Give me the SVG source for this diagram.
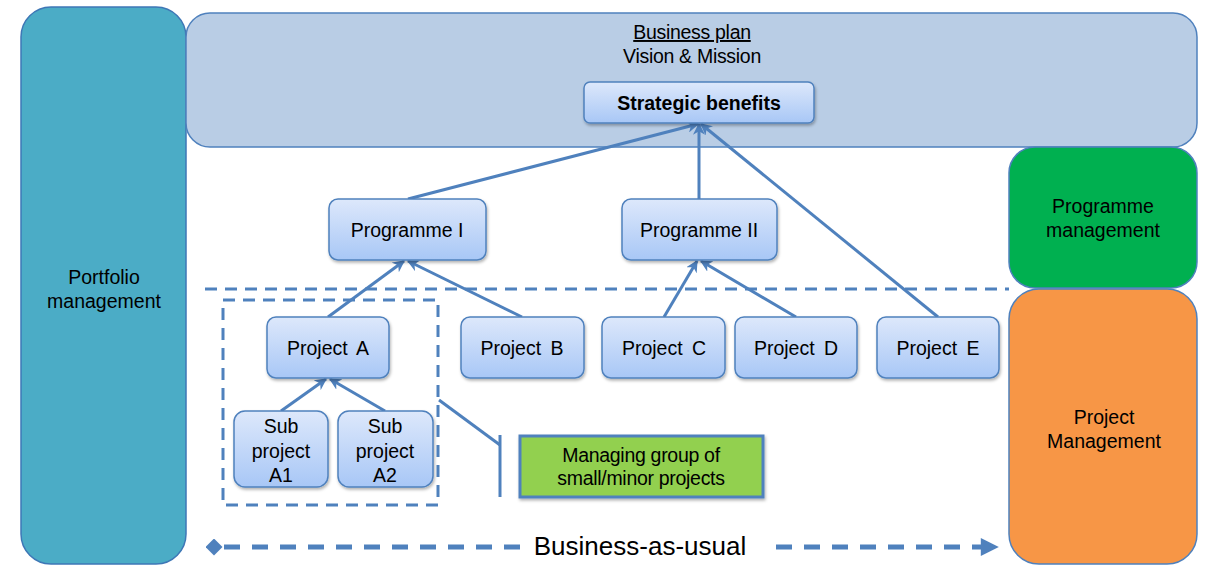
<svg xmlns="http://www.w3.org/2000/svg" width="1206" height="567" viewBox="0 0 1206 567">
<defs>
<linearGradient id="nodeGrad" x1="0" y1="0" x2="0" y2="1">
<stop offset="0" stop-color="#DDE8FB"/>
<stop offset="1" stop-color="#A8C7F6"/>
</linearGradient>
<filter id="sh" x="-10%" y="-10%" width="130%" height="140%">
<feDropShadow dx="1" dy="2" stdDeviation="1.5" flood-color="#000" flood-opacity="0.3"/>
</filter>
<marker id="arr" viewBox="0 0 10 10" refX="9" refY="5" markerWidth="4" markerHeight="4" orient="auto-start-reverse" markerUnits="strokeWidth">
<path d="M0,0 L10,5 L0,10 L3,5 z" fill="#4F81BD"/>
</marker>
<marker id="tri" viewBox="0 0 10 10" refX="9" refY="5" markerWidth="3.8" markerHeight="3.6" orient="auto" markerUnits="strokeWidth">
<path d="M0,0 L10,5 L0,10 z" fill="#4F81BD"/>
</marker>
<marker id="dia" viewBox="0 0 10 10" refX="5" refY="5" markerWidth="3.4" markerHeight="3.4" orient="auto" markerUnits="strokeWidth">
<path d="M0,5 L5,0 L10,5 L5,10 z" fill="#4F81BD"/>
</marker>
</defs>
<style>
text { font-family: "Liberation Sans", Arial, sans-serif; font-size: 19.5px; fill: #000; text-anchor: middle; }
.big { font-size: 26px; }
.tight { letter-spacing: -0.3px; }
.node { fill: url(#nodeGrad); stroke: #4F81BD; stroke-width: 1.5; filter: url(#sh); }
.conn { stroke: #4F81BD; stroke-width: 3; fill: none; }
.dash { stroke: #4F81BD; stroke-width: 3; fill: none; stroke-dasharray: 12 8; }
.bau { stroke: #4F81BD; stroke-width: 5; fill: none; stroke-dasharray: 16 12; }
</style>

<g id="portfolio">
<rect x="21" y="7" width="165" height="557" rx="30" fill="#4BACC6" stroke="#3E77B6" stroke-width="1.5"/>
<text x="104" y="284">Portfolio</text>
<text x="104" y="308">management</text>
</g>

<g id="business-plan">
<rect x="186" y="13" width="1011" height="134" rx="24" fill="#B9CDE5" stroke="#4F81BD" stroke-width="1.5"/>
<text x="692" y="39" class="tight" text-decoration="underline">Business plan</text>
<text x="692" y="63" class="tight">Vision &amp; Mission</text>
</g>

<g id="programme-management">
<rect x="1009" y="147" width="188" height="141" rx="26" fill="#00B050" stroke="#4F81BD" stroke-width="1.5"/>
<text x="1103" y="213">Programme</text>
<text x="1103" y="237">management</text>
</g>

<g id="project-management">
<rect x="1009" y="289" width="188" height="275" rx="30" fill="#F79646" stroke="#4F81BD" stroke-width="1.5"/>
<text x="1104" y="424">Project</text>
<text x="1104" y="448">Management</text>
</g>

<g id="connectors">
<line class="dash" x1="205" y1="289" x2="1009" y2="289"/>
<rect class="dash" x="223" y="300" width="215" height="205"/>
<line class="conn" x1="408" y1="199" x2="698" y2="124" marker-end="url(#arr)"/>
<line class="conn" x1="699" y1="199" x2="699" y2="124" marker-end="url(#arr)"/>
<line class="conn" x1="938" y1="317" x2="701" y2="124" marker-end="url(#arr)"/>
<line class="conn" x1="328" y1="317" x2="404" y2="261" marker-end="url(#arr)"/>
<line class="conn" x1="522" y1="317" x2="408" y2="261" marker-end="url(#arr)"/>
<line class="conn" x1="664" y1="317" x2="697" y2="261" marker-end="url(#arr)"/>
<line class="conn" x1="796" y1="317" x2="701" y2="261" marker-end="url(#arr)"/>
<line class="conn" x1="281" y1="411" x2="326" y2="379" marker-end="url(#arr)"/>
<line class="conn" x1="385" y1="411" x2="330" y2="379" marker-end="url(#arr)"/>
<polyline class="conn" points="439,400 500,445"/>
<line class="conn" x1="500" y1="435" x2="500" y2="497"/>
<line class="bau" x1="520" y1="547" x2="214" y2="547" marker-end="url(#dia)"/>
<line class="bau" x1="776" y1="547" x2="997" y2="547" marker-end="url(#tri)"/>
</g>

<g id="strategic-benefits">
<rect class="node" x="584" y="82" width="230" height="41" rx="6"/>
<text x="699" y="110" font-weight="bold">Strategic benefits</text>
</g>

<g id="programme-1">
<rect class="node" x="329" y="199" width="157" height="61" rx="9"/>
<text x="407" y="237">Programme I</text>
</g>

<g id="programme-2">
<rect class="node" x="622" y="199" width="155" height="61" rx="9"/>
<text x="699" y="237">Programme II</text>
</g>

<g id="project-a">
<rect class="node" x="267" y="317" width="122" height="61" rx="9"/>
<text x="328" y="355" word-spacing="4">Project A</text>
</g>

<g id="project-b">
<rect class="node" x="461" y="317" width="123" height="61" rx="9"/>
<text x="522" y="355" word-spacing="4">Project B</text>
</g>

<g id="project-c">
<rect class="node" x="602" y="317" width="123" height="61" rx="9"/>
<text x="664" y="355" word-spacing="4">Project C</text>
</g>

<g id="project-d">
<rect class="node" x="735" y="317" width="122" height="61" rx="9"/>
<text x="796" y="355" word-spacing="4">Project D</text>
</g>

<g id="project-e">
<rect class="node" x="877" y="317" width="122" height="61" rx="9"/>
<text x="938" y="355" word-spacing="4">Project E</text>
</g>

<g id="sub-a1">
<rect class="node" x="234" y="411" width="94" height="76" rx="11"/>
<text x="281" y="433">Sub</text>
<text x="281" y="458">project</text>
<text x="281" y="482">A1</text>
</g>

<g id="sub-a2">
<rect class="node" x="338" y="411" width="95" height="76" rx="11"/>
<text x="385" y="433">Sub</text>
<text x="385" y="458">project</text>
<text x="385" y="482">A2</text>
</g>

<g id="managing-group">
<rect x="520" y="436" width="243" height="61" fill="#92D050" stroke="#4F81BD" stroke-width="3" filter="url(#sh)"/>
<text x="641" y="462" class="tight">Managing group of</text>
<text x="641" y="485" class="tight">small/minor projects</text>
</g>

<g id="bau-label">
<text x="640" y="555" class="big">Business-as-usual</text>
</g>
</svg>
